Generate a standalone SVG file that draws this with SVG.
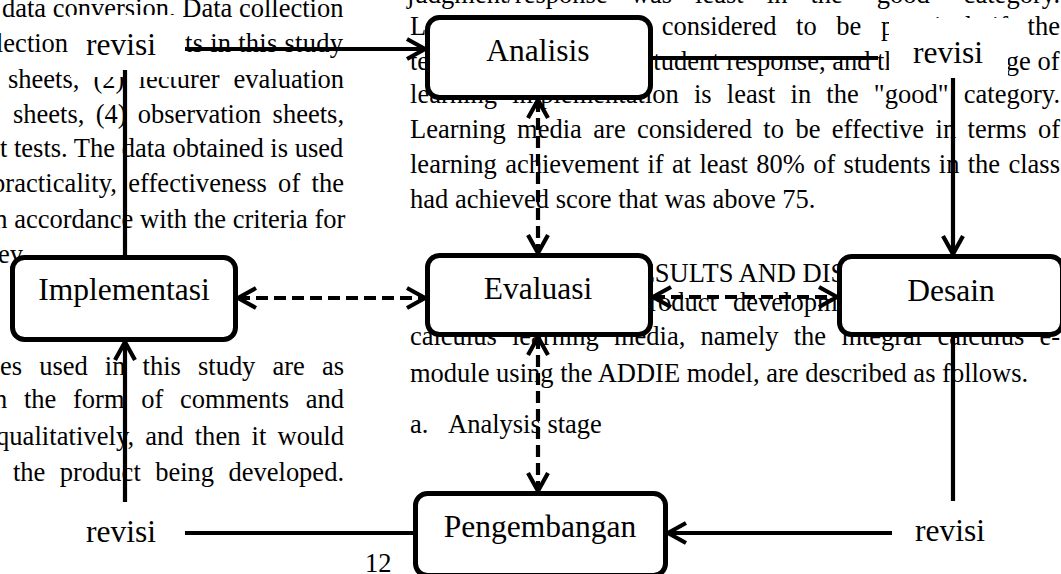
<svg xmlns="http://www.w3.org/2000/svg" width="1061" height="574" viewBox="0 0 1061 574">
<defs>
<style>
.t{font-family:"Liberation Serif","Times New Roman",serif;font-size:26.5px;fill:#000}
.nl{font-family:"Liberation Serif","Times New Roman",serif;font-size:31.5px;fill:#000;text-anchor:middle}
.box{fill:#fff;stroke:#000;stroke-width:5}
.c{fill:none;stroke:#000;stroke-width:4.2}
.d{stroke-dasharray:12 6}
.wb{fill:#fff}
</style>
<marker id="ah" markerUnits="userSpaceOnUse" markerWidth="30" markerHeight="30" refX="20" refY="11" orient="auto-start-reverse" overflow="visible">
<path d="M2,1 L20,11 L2,21" fill="none" stroke="#000" stroke-width="4.2" stroke-dasharray="none"/>
</marker>
</defs>
<rect width="1061" height="574" fill="#fff"/>

<g id="page-text">
<text class="t" x="2" y="17">data conversion. Data collection</text>
<text class="t" x="-4" y="52">lection</text>
<text class="t" x="185" y="52" textLength="158">ts in this study</text>
<text class="t" x="8" y="88" word-spacing="7.5" textLength="336">sheets, (2) lecturer evaluation</text>
<text class="t" x="13" y="123" word-spacing="4.6" textLength="331">sheets, (4) observation sheets,</text>
<text class="t" x="0" y="157">t tests. The data obtained is used</text>
<text class="t" x="-8" y="192" word-spacing="4.5" textLength="352">practicality, effectiveness of the</text>
<text class="t" x="-13" y="228">in accordance with the criteria for</text>
<text class="t" x="-2" y="263">ey</text>
<text class="t" x="0" y="375" word-spacing="10.5" textLength="344">es used in this study are as</text>
<text class="t" x="-6" y="408" word-spacing="10" textLength="350">n the form of comments and</text>
<text class="t" x="-4" y="445" word-spacing="4.4" textLength="348">qualitatively, and then it would</text>
<text class="t" x="13" y="481" word-spacing="7.8" textLength="331">the product being developed.</text>

<text class="t" x="407" y="3" word-spacing="16.3" textLength="653">judgment/response was least in the "good" category.</text>
<text class="t" x="410" y="35" word-spacing="13" textLength="650">Learning media are considered to be practical if the</text>
<text class="t" x="410" y="70">te</text>
<text class="t" x="643" y="70">student response, and the percentage of</text>
<text class="t" x="410" y="103" word-spacing="8.4" textLength="650">learning implementation is least in the "good" category.</text>
<text class="t" x="410" y="138" word-spacing="4.8" textLength="650">Learning media are considered to be effective in terms of</text>
<text class="t" x="410" y="173" word-spacing="1.7" textLength="650">learning achievement if at least 80% of students in the class</text>
<text class="t" x="410" y="208">had achieved score that was above 75.</text>
<text class="t" x="621" y="282">RESULTS AND DISCUSSION</text>
<text class="t" x="636" y="311">product</text>
<text class="t" x="733" y="311">development</text>
<text class="t" x="410" y="345" word-spacing="8.6" textLength="650">calculus learning media, namely the integral calculus e-</text>
<text class="t" x="410" y="382">module using the ADDIE model, are described as follows.</text>
<text class="t" x="410" y="433">a.</text>
<text class="t" x="448" y="433">Analysis stage</text>
<text class="t" x="365" y="572">12</text>
</g>

<g id="label-backgrounds">
<rect class="wb" x="70" y="15" width="113" height="62"/>
<rect class="wb" x="889" y="18" width="119" height="58"/>
</g>

<g id="connectors">
<path class="c" d="M125,255 L125,70"/>
<path class="c" d="M185,49 L425,49" marker-end="url(#ah)"/>
<path class="c" d="M653,58 L878,58"/>
<path class="c" d="M953,78 L953,254" marker-end="url(#ah)"/>
<path class="c" d="M953,337 L953,501"/>
<path class="c" d="M892,533 L668,533" marker-end="url(#ah)"/>
<path class="c" d="M413,533 L185,533"/>
<path class="c" d="M125,502 L125,342" marker-end="url(#ah)"/>
<path class="c d" d="M538,100 L538,253" marker-start="url(#ah)" marker-end="url(#ah)"/>
<path class="c d" d="M238,298 L425,298" marker-start="url(#ah)" marker-end="url(#ah)"/>
<path class="c d" d="M653,297 L837,297" marker-start="url(#ah)" marker-end="url(#ah)"/>
<path class="c d" d="M538,337 L538,491" marker-start="url(#ah)" marker-end="url(#ah)"/>
</g>

<g id="analisis"><rect class="box" x="427.5" y="17.5" width="223" height="80" rx="12"/><text class="nl" x="538" y="61">Analisis</text></g>
<g id="implementasi"><rect class="box" x="12.5" y="257.5" width="223" height="82" rx="12"/><text class="nl" x="124" y="300">Implementasi</text></g>
<g id="evaluasi"><rect class="box" x="427.5" y="255.5" width="223" height="79" rx="12"/><text class="nl" x="538" y="299">Evaluasi</text></g>
<g id="desain"><rect class="box" x="839.5" y="256.5" width="223" height="78" rx="12"/><text class="nl" x="951" y="301">Desain</text></g>
<g id="pengembangan"><rect class="box" x="415.5" y="493.5" width="250" height="82" rx="12"/><text class="nl" x="540" y="537">Pengembangan</text></g>

<g id="revisi-labels">
<text class="nl" x="121" y="55">revisi</text>
<text class="nl" x="948" y="63">revisi</text>
<text class="nl" x="121" y="542">revisi</text>
<text class="nl" x="950" y="541">revisi</text>
</g>
</svg>
